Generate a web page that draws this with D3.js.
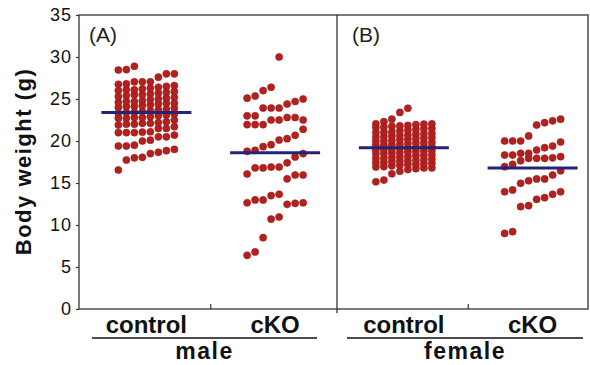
<!DOCTYPE html>
<html>
<head>
<meta charset="utf-8">
<script src="https://cdn.jsdelivr.net/npm/d3@7"></script>
<style>
  body { margin: 0; background: #fff; }
  svg { display: block; }
</style>
</head>
<body>
<div id="chart"></div>
<script>
// groups, left to right
const groups = ["male-control", "male-cKO", "female-control", "female-cKO"];
const groupLabels = ["control", "cKO", "control", "cKO"];
const sexLabels = ["male", "female"];
const panelLabels = ["(A)", "(B)"];
const yTicks = [0, 5, 10, 15, 20, 25, 30, 35];

// body weights (g), in plotting order (8 per row)
const maleControl = [
  16.55, 17.74, 18.0, 18.06, 18.5, 18.65, 18.85, 19.0,
  19.4, 19.4, 19.5, 20.0, 20.1, 20.5, 20.5, 20.7,
  21.0, 21.0, 21.0, 21.05, 21.1, 21.5, 21.5, 21.7,
  21.9, 22.0, 22.0, 22.1, 22.1, 22.2, 22.3, 22.5,
  22.7, 22.7, 22.8, 22.8, 22.9, 23.0, 23.1, 23.2,
  23.3, 23.4, 23.4, 23.5, 23.6, 23.7, 23.8, 23.9,
  24.0, 24.1, 24.1, 24.2, 24.3, 24.4, 24.5, 24.5,
  24.6, 24.7, 24.7, 24.8, 24.9, 25.0, 25.1, 25.2,
  25.3, 25.4, 25.5, 25.5, 25.6, 25.7, 25.8, 25.9,
  26.0, 26.1, 26.1, 26.2, 26.3, 26.4, 26.5, 26.6,
  26.75, 26.8, 27.05, 27.05, 27.05, 27.6, 28.0, 28.0,
  28.45, 28.5, 28.9
];
const maleCKO = [
  6.39, 6.79, 8.49, 10.7, 10.95, 12.46, 12.58, 12.65,
  12.65, 12.98, 12.98, 13.5, 13.65, 15.5, 15.95, 15.95,
  16.07, 16.8, 16.8, 16.9, 16.9, 17.4, 18.1, 18.5,
  18.77, 18.89, 19.33, 19.56, 20.12, 20.28, 20.67, 21.39,
  21.95, 21.95, 21.95, 22.5, 22.5, 22.8, 22.8, 22.5,
  23.0, 23.0, 23.93, 23.93, 23.93, 24.4, 24.7, 25.0,
  25.1, 25.36, 26.0, 26.4, 30.0
];
const femaleControl = [
  15.15, 15.35, 16.1, 16.4, 16.6, 16.7, 16.8, 16.8,
  16.9, 16.95, 17.05, 17.1, 17.2, 17.2, 17.3, 17.35,
  17.4, 17.45, 17.55, 17.6, 17.65, 17.7, 17.8, 17.85,
  17.9, 17.95, 18.05, 18.1, 18.15, 18.25, 18.3, 18.35,
  18.45, 18.5, 18.55, 18.6, 18.7, 18.75, 18.8, 18.85,
  18.9, 18.95, 19.0, 19.1, 19.15, 19.2, 19.3, 19.35,
  19.45, 19.5, 19.55, 19.6, 19.7, 19.75, 19.8, 19.85,
  19.95, 20.0, 20.05, 20.15, 20.2, 20.3, 20.35, 20.4,
  20.45, 20.5, 20.6, 20.65, 20.7, 20.8, 20.85, 20.9,
  21.0, 21.05, 21.1, 21.2, 21.3, 21.35, 21.45, 21.5,
  21.6, 21.65, 21.75, 21.8, 21.85, 21.95, 22.0, 22.05,
  22.05, 22.3, 22.6, 23.4, 23.9
];
const femaleCKO = [
  9.0, 9.2, 12.18, 12.3, 13.06, 13.25, 13.65, 13.96,
  13.96, 14.17, 14.96, 15.27, 15.48, 15.48, 15.95, 16.46,
  16.94, 17.22, 17.66, 17.94, 17.94, 17.94, 18.0, 18.13,
  18.33, 18.33, 18.53, 18.53, 18.93, 19.2, 19.4, 19.88,
  20.0, 20.0, 20.0, 20.6, 21.9, 22.18, 22.4, 22.6
];
const groupMeans = [23.4, 18.6, 19.2, 16.8];
const groupValues = [maleControl, maleCKO, femaleControl, femaleCKO];

const width = 590, height = 365;
const plotLeft = 79, plotRight = 588, plotTop = 15, plotBottom = 309, divider = 337;
const nCols = 8, colStep = 8, dotR = 3.6;

const svg = d3.select("#chart").append("svg")
    .attr("width", width)
    .attr("height", height);

const y = d3.scaleLinear().domain([0, 35]).range([plotBottom, plotTop]);
const x = d3.scaleBand().domain(groups).range([82, 597]);
const center = g => x(g) + x.bandwidth() / 2;

// frame and panel divider
svg.append("rect")
    .attr("x", plotLeft).attr("y", plotTop)
    .attr("width", plotRight - plotLeft).attr("height", plotBottom - plotTop)
    .attr("fill", "none").attr("stroke", "#333").attr("stroke-width", 1.3);
svg.append("line")
    .attr("x1", divider).attr("x2", divider)
    .attr("y1", plotTop).attr("y2", plotBottom + 4)
    .attr("stroke", "#333").attr("stroke-width", 1.3);

// y axis
const yAxis = svg.append("g")
    .attr("transform", "translate(" + plotLeft + ",0)")
    .call(d3.axisLeft(y).tickValues(yTicks).tickSize(3).tickPadding(4));
yAxis.select(".domain").remove();
yAxis.selectAll("line").attr("stroke", "#333").attr("stroke-width", 1.2);
yAxis.selectAll("text")
    .attr("font-family", "Liberation Sans, Arial, sans-serif")
    .attr("font-size", 18)
    .attr("letter-spacing", 1)
    .attr("fill", "#111");

svg.append("text")
    .attr("transform", "translate(31," + ((68 + 255) / 2) + ") rotate(-90)")
    .attr("text-anchor", "middle")
    .attr("font-family", "Liberation Sans, Arial, sans-serif")
    .attr("font-weight", "bold")
    .attr("font-size", 22)
    .attr("letter-spacing", 1.5)
    .attr("fill", "#111")
    .text("Body weight (g)");

// inner ticks at the band boundaries
svg.selectAll(".xtick")
    .data([groups[1], groups[3]])
  .enter().append("line")
    .attr("x1", d => x(d)).attr("x2", d => x(d))
    .attr("y1", plotBottom).attr("y2", plotBottom - 5)
    .attr("stroke", "#333").attr("stroke-width", 1.2);

// dots
groups.forEach((g, gi) => {
  svg.append("g").selectAll("circle")
      .data(groupValues[gi])
    .enter().append("circle")
      .attr("cx", (d, i) => center(g) + (i % nCols - (nCols - 1) / 2) * colStep)
      .attr("cy", d => y(d))
      .attr("r", dotR)
      .attr("fill", "#b3201e")
      .attr("stroke", "#951817")
      .attr("stroke-width", 0.5);
});

// mean lines
svg.selectAll(".mean")
    .data(groups)
  .enter().append("line")
    .attr("x1", d => center(d) - 45)
    .attr("x2", d => center(d) + 45)
    .attr("y1", (d, i) => y(groupMeans[i]))
    .attr("y2", (d, i) => y(groupMeans[i]))
    .attr("stroke", "#232478")
    .attr("stroke-width", 3);

// panel letters
svg.selectAll(".panel")
    .data(panelLabels)
  .enter().append("text")
    .attr("x", (d, i) => i === 0 ? 89 : 352)
    .attr("y", 42)
    .attr("font-family", "Liberation Sans, Arial, sans-serif")
    .attr("font-size", 21)
    .attr("fill", "#222")
    .text(d => d);

// group labels
svg.selectAll(".glabel")
    .data(groups)
  .enter().append("text")
    .attr("x", d => center(d))
    .attr("y", 333)
    .attr("text-anchor", "middle")
    .attr("font-family", "Liberation Sans, Arial, sans-serif")
    .attr("font-weight", "bold")
    .attr("font-size", 24)
    .attr("fill", "#111")
    .text((d, i) => groupLabels[i]);

// sex brackets and labels
const brackets = [[plotLeft + 13, divider - 20], [divider + 10, plotRight - 5]];
svg.selectAll(".bracket")
    .data(brackets)
  .enter().append("line")
    .attr("x1", d => d[0]).attr("x2", d => d[1])
    .attr("y1", 338).attr("y2", 338)
    .attr("stroke", "#111").attr("stroke-width", 1.6);
svg.selectAll(".slabel")
    .data(sexLabels)
  .enter().append("text")
    .attr("x", (d, i) => (brackets[i][0] + brackets[i][1]) / 2)
    .attr("y", 359)
    .attr("text-anchor", "middle")
    .attr("font-family", "Liberation Sans, Arial, sans-serif")
    .attr("font-weight", "bold")
    .attr("font-size", 23)
    .attr("letter-spacing", 1.5)
    .attr("fill", "#111")
    .text(d => d);
</script>
</body>
</html>
